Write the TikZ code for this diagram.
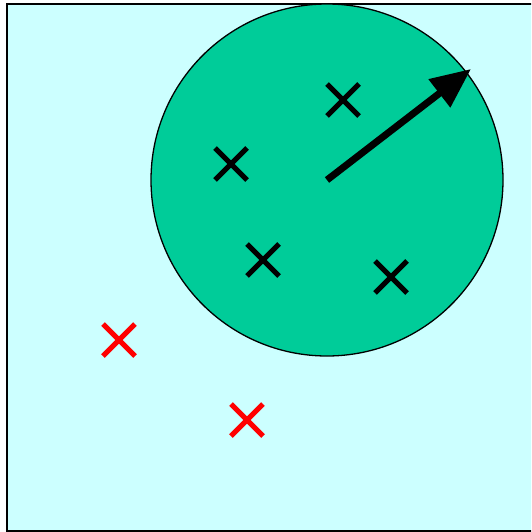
\documentclass[tikz,border=0pt]{standalone}
\usetikzlibrary{arrows.meta}
\definecolor{bgcyan}{HTML}{CCFFFF}
\definecolor{ballgreen}{HTML}{00CC99}
\tikzset{
  xmark/.pic={\draw[line width=5pt] (-16,-16) -- (16,16) (-16,16) -- (16,-16);},
  blackx/.style={black},
  redx/.style={red},
}
\begin{document}
\begin{tikzpicture}[x=1pt,y=-1pt]
\useasboundingbox (0,0) rectangle (531,532);
\clip (0,0) rectangle (531,532);
\fill[white] (0,0) rectangle (531,532);
\draw[fill=bgcyan,line width=2pt] (7,4) rectangle (545,531);
\draw[fill=ballgreen,line width=1.3pt] (327,180) circle (176);
\coordinate (c) at (327,180);
\coordinate (tip) at (471,69);
\draw[line width=7pt,-{Triangle[length=40pt,width=34pt]}] (c) -- (tip);
\pic[black] at (343,100) {xmark};
\pic[black] at (231,164) {xmark};
\pic[black] at (263,260) {xmark};
\pic[black] at (391,277) {xmark};
\pic[red] at (119,340) {xmark};
\pic[red] at (247,420) {xmark};
\end{tikzpicture}
\end{document}
